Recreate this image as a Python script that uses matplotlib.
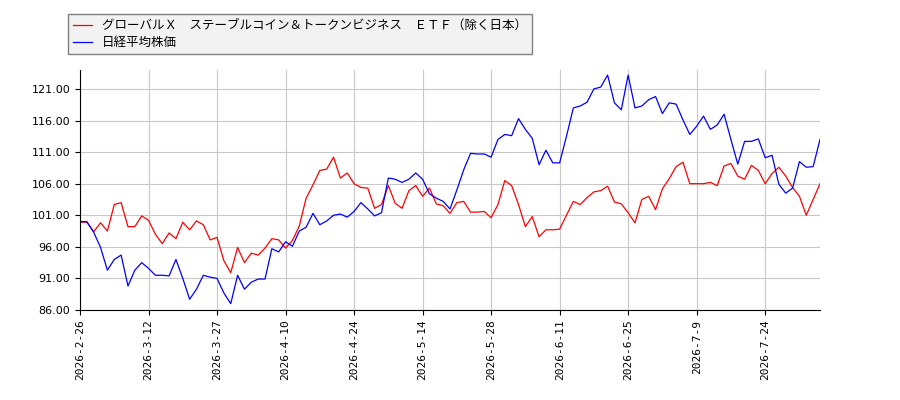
import matplotlib
matplotlib.use("Agg")
import matplotlib.pyplot as plt

plt.rcParams['font.family'] = ['Noto Sans CJK JP', 'DejaVu Sans']

# series names
etf_name = "グローバルＸ　ステーブルコイン＆トークンビジネス　ＥＴＦ（除く日本）"
nikkei_name = "日経平均株価"

# relative values (start = 100), one per trading day
etf = [99.9, 99.9, 98.4, 99.8, 98.5, 102.7, 103.0, 99.2, 99.2, 100.9,
       100.2, 98.0, 96.5, 98.2, 97.3, 99.9, 98.7, 100.1, 99.5, 97.1,
       97.5, 93.8, 91.9, 95.9, 93.5, 95.0, 94.7, 95.8, 97.3, 97.1,
       95.8, 97.0, 99.3, 103.7, 105.8, 108.1, 108.3, 110.2, 106.9, 107.7,
       106.0, 105.4, 105.3, 102.1, 102.7, 105.7, 102.9, 102.1, 104.9, 105.7,
       104.0, 105.3, 102.8, 102.5, 101.3, 103.0, 103.2, 101.5, 101.5, 101.6,
       100.6, 102.7, 106.5, 105.7, 102.7, 99.2, 100.8, 97.6, 98.7, 98.7,
       98.8, 101.0, 103.2, 102.7, 103.8, 104.7, 104.9, 105.6, 103.1, 102.8,
       101.4, 99.8, 103.5, 104.0, 101.9, 105.2, 106.8, 108.7, 109.4, 106.0,
       106.0, 106.0, 106.2, 105.7, 108.8, 109.2, 107.2, 106.7, 108.9, 108.1,
       106.0, 107.6, 108.6, 107.2, 105.4, 104.0, 101.0, 103.5, 106.0]

nikkei = [100.0, 100.0, 98.3, 95.9, 92.3, 94.0, 94.7, 89.8, 92.3, 93.5,
          92.6, 91.5, 91.5, 91.4, 94.0, 91.0, 87.7, 89.3, 91.5, 91.2,
          91.0, 88.7, 87.0, 91.5, 89.3, 90.4, 90.9, 90.9, 95.7, 95.2,
          96.8, 96.1, 98.5, 99.1, 101.3, 99.5, 100.1, 101.0, 101.2, 100.7,
          101.6, 103.0, 102.0, 100.9, 101.4, 106.9, 106.7, 106.2, 106.7, 107.7,
          106.7, 104.4, 103.7, 103.2, 102.0, 105.0, 108.2, 110.8, 110.7, 110.7,
          110.2, 113.0, 113.8, 113.6, 116.3, 114.6, 113.2, 109.0, 111.3, 109.3,
          109.3, 113.5, 118.0, 118.3, 118.9, 121.0, 121.3, 123.2, 118.8, 117.7,
          123.2, 118.0, 118.3, 119.3, 119.8, 117.1, 118.8, 118.6, 116.1, 113.8,
          115.1, 116.7, 114.6, 115.3, 117.0, 113.0, 109.1, 112.7, 112.7, 113.1,
          110.1, 110.5, 105.9, 104.5, 105.3, 109.5, 108.6, 108.7, 113.0]

# every 10th trading day gets a label
tick_labels = ["2026-2-26", "2026-3-12", "2026-3-27", "2026-4-10", "2026-4-24",
               "2026-5-14", "2026-5-28", "2026-6-11", "2026-6-25", "2026-7-9",
               "2026-7-24"]
y_ticks = [86, 91, 96, 101, 106, 111, 116, 121]

x = list(range(len(etf)))

fig = plt.figure(figsize=(9, 4), dpi=100)
ax = fig.add_axes([0.0889, 0.225, 0.8222, 0.6])

ax.plot(x, etf, color='red', linewidth=0.9, label=etf_name)
ax.plot(x, nikkei, color='blue', linewidth=0.9, label=nikkei_name)

ax.set_xlim(0, len(etf) - 1)
ax.set_ylim(86, 124)
ax.set_yticks(y_ticks)
ax.set_yticklabels(["%.2f" % v for v in y_ticks], fontsize=8, family='DejaVu Sans')
ax.set_xticks(range(0, len(etf), 10))
ax.set_xticklabels(tick_labels, rotation=90, fontsize=8, family='DejaVu Sans Mono')

ax.grid(True, color='#c8c8c8', linewidth=0.8)
ax.set_axisbelow(True)
for side in ['top', 'right']:
    ax.spines[side].set_visible(False)

leg = fig.legend(loc='upper left', bbox_to_anchor=(0.069, 0.98),
                 fontsize=9, fancybox=False, framealpha=1,
                 facecolor='#f2f2f2', edgecolor='#808080',
                 handlelength=1.5, borderpad=0.4, labelspacing=0.3)

fig.savefig("out.png", dpi=100)
